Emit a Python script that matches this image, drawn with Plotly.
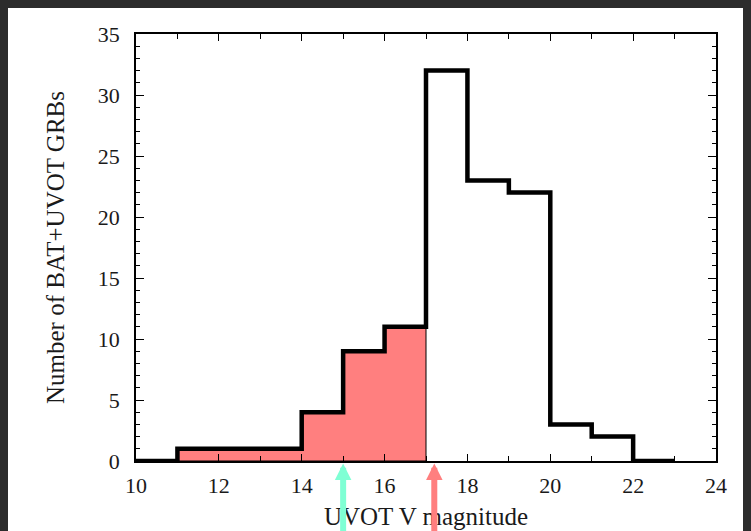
import plotly.graph_objects as go

# ---- data ----
bin_edges = [10, 11, 12, 13, 14, 15, 16, 17, 18, 19, 20, 21, 22, 23]
all_counts = [0, 1, 1, 1, 4, 9, 11, 32, 23, 22, 3, 2, 0]
sub_edges = [11, 12, 13, 14, 15, 16, 17]
sub_counts = [1, 1, 1, 4, 9, 11]
arrow_positions = [15.0, 17.2]
arrow_colors = ["#7FFFD4", "#FF7F7F"]
x_ticks = [10, 12, 14, 16, 18, 20, 22, 24]
y_ticks = [0, 5, 10, 15, 20, 25, 30, 35]


def step_xy(edges, counts, close=False):
    xs, ys = [], []
    if close:
        xs.append(edges[0]); ys.append(0)
    for i, c in enumerate(counts):
        xs += [edges[i], edges[i + 1]]
        ys += [c, c]
    if close:
        xs.append(edges[-1]); ys.append(0)
        xs.append(edges[0]); ys.append(0)
    return xs, ys


fig = go.Figure()

sx, sy = step_xy(sub_edges, sub_counts, close=True)
fig.add_trace(go.Scatter(x=sx, y=sy, mode="lines", fill="toself",
                         fillcolor="#FF7F7F", line=dict(color="black", width=1),
                         hoverinfo="skip", showlegend=False))

ax_, ay_ = step_xy(bin_edges, all_counts)
fig.add_trace(go.Scatter(x=ax_, y=ay_, mode="lines",
                         line=dict(color="black", width=4.5),
                         hoverinfo="skip", showlegend=False))

for pos, col in zip(arrow_positions, arrow_colors):
    fig.add_annotation(x=pos, xref="x", y=-0.006, yref="paper", text="",
                       showarrow=True, ax=0, ay=80, arrowhead=2, arrowsize=0.55,
                       arrowwidth=6, arrowcolor=col, standoff=0)

tick_font = dict(family="Liberation Serif", size=22, color="#1a1a1a")
title_font = dict(family="Liberation Serif", size=25, color="#1a1a1a")

fig.update_layout(
    width=751, height=531,
    margin=dict(l=128, r=43, t=26, b=78),
    paper_bgcolor="white",
    plot_bgcolor="white",
    font=tick_font,
    xaxis=dict(range=[10, 24], tickmode="array", tickvals=x_ticks,
               ticks="inside", ticklen=7, tickwidth=1.2, tickcolor="black",
               minor=dict(dtick=1, tick0=10, ticks="inside", ticklen=5,
                          tickwidth=1, tickcolor="black"),
               showline=True, linecolor="black", linewidth=1.5, mirror="ticks",
               showgrid=False, zeroline=False, ticklabelstandoff=4,
               tickfont=tick_font,
               title=dict(text="UVOT V magnitude", font=title_font, standoff=10)),
    yaxis=dict(range=[0, 35], tickmode="array", tickvals=y_ticks,
               ticks="inside", ticklen=8, tickwidth=1.2, tickcolor="black",
               minor=dict(dtick=1, tick0=0, ticks="inside", ticklen=4,
                          tickwidth=1, tickcolor="black"),
               showline=True, linecolor="black", linewidth=1.5, mirror="ticks",
               showgrid=False, zeroline=False, ticklabelstandoff=10,
               tickfont=tick_font,
               title=dict(text="Number of BAT+UVOT GRBs", font=title_font, standoff=26)),
)

fig.write_html("out.html",
               post_script="document.body.style.backgroundColor='#2c2c2c';")
